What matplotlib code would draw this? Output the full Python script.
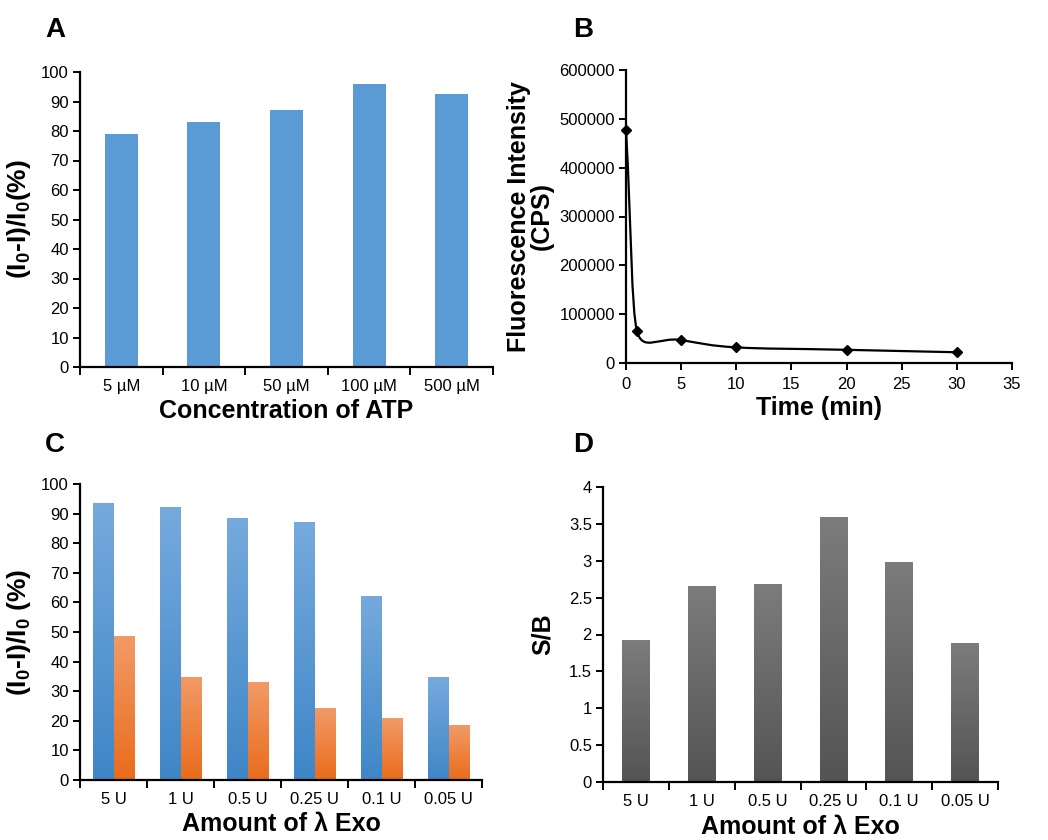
import numpy as np
import matplotlib
matplotlib.use('Agg')
import matplotlib.pyplot as plt
from matplotlib.path import Path
import matplotlib.patches as mpatches
from matplotlib.colors import LinearSegmentedColormap

plt.rcParams['font.family'] = ['Liberation Sans', 'DejaVu Sans']
plt.rcParams['mathtext.default'] = 'regular'
plt.rcParams['axes.linewidth'] = 1.6

# Panel A data
atp_labels = ['5 µM', '10 µM', '50 µM', '100 µM', '500 µM']
atp_values = [79.0, 83.0, 87.0, 95.8, 92.7]

# Panel B data
time_min = [0, 1, 5, 10, 20, 30]
intensity = [478000, 65000, 47000, 32000, 27000, 22000]

# Panel C data
exo_labels = ['5 U', '1 U', '0.5 U', '0.25 U', '0.1 U', '0.05 U']
exo_blue = [93.6, 92.3, 88.6, 87.2, 62.2, 34.8]
exo_orange = [48.6, 34.8, 33.1, 24.3, 20.9, 18.5]

# Panel D data
sb_values = [1.92, 2.66, 2.69, 3.59, 2.98, 1.88]

W, H = 1048, 840
TICK_FS = 12
LABEL_FS = 18


def style_category_axis(ax, labels):
    n = len(labels)
    ax.set_xlim(-0.5, n - 0.5)
    ax.set_xticks(np.arange(n + 1) - 0.5)
    ax.set_xticklabels([])
    ax.set_xticks(np.arange(n), minor=True)
    ax.set_xticklabels(labels, minor=True, fontsize=TICK_FS)
    ax.tick_params(axis='x', which='major', direction='out', length=6, width=1.4)
    ax.tick_params(axis='x', which='minor', length=0, pad=9)


def base_style(ax):
    for s in ['top', 'right']:
        ax.spines[s].set_visible(False)
    ax.tick_params(axis='y', direction='out', length=5, width=1.4, labelsize=TICK_FS, pad=3)
    ax.tick_params(axis='x', labelsize=TICK_FS)


def gradient_bars(ax, bars, top_color, bottom_color):
    cmap = LinearSegmentedColormap.from_list('g', [bottom_color, top_color])
    grad = np.linspace(0, 1, 256).reshape(-1, 1)
    xlim, ylim = ax.get_xlim(), ax.get_ylim()
    for b in bars:
        x0, y0 = b.get_x(), b.get_y()
        w, h = b.get_width(), b.get_height()
        b.set_facecolor('none')
        b.set_edgecolor('none')
        im = ax.imshow(grad, extent=[x0, x0 + w, y0, y0 + h], origin='lower',
                       cmap=cmap, aspect='auto', zorder=2)
        im.set_clip_path(b)
    ax.set_xlim(xlim)
    ax.set_ylim(ylim)


def smooth_path(xs, ys, sx, sy, k=0.5):
    # Excel-like smoothed line: Bezier through the points, tangents in screen space,
    # handle length limited by the shorter neighbouring segment
    p = np.column_stack([np.asarray(xs, float) * sx, np.asarray(ys, float) * sy])
    n = len(p)
    seg = np.linalg.norm(np.diff(p, axis=0), axis=1)
    verts = [p[0]]
    codes = [Path.MOVETO]
    for i in range(n - 1):
        p0 = p[i - 1] if i > 0 else p[i]
        p1, p2 = p[i], p[i + 1]
        p3 = p[i + 2] if i + 2 < n else p[i + 1]
        t1 = p2 - p0
        t2 = p3 - p1
        t1 = t1 / (np.linalg.norm(t1) or 1)
        t2 = t2 / (np.linalg.norm(t2) or 1)
        a1 = seg[i] if i == 0 else min(seg[i], seg[i - 1])
        a2 = seg[i] if i + 1 == n - 1 else min(seg[i], seg[i + 1])
        c1 = p1 + t1 * a1 * k
        c2 = p2 - t2 * a2 * k
        verts += [c1, c2, p2]
        codes += [Path.CURVE4] * 3
    verts = np.array(verts)
    verts[:, 0] /= sx
    verts[:, 1] /= sy
    return Path(verts, codes)


fig = plt.figure(figsize=(W / 100, H / 100), dpi=100, facecolor='white')


def add_ax(l, r, t, b):
    return fig.add_axes([l / W, 1 - b / H, (r - l) / W, (b - t) / H])


# ---- Panel A
axA = add_ax(80, 493, 72, 367)
base_style(axA)
axA.bar(np.arange(len(atp_values)), atp_values, width=0.4, color='#5b9bd5', zorder=2)
axA.set_ylim(0, 100)
axA.set_yticks(np.arange(0, 101, 10))
style_category_axis(axA, atp_labels)
axA.set_ylabel('(I$_0$-I)/I$_0$(%)', fontsize=LABEL_FS + 1, fontweight='bold', labelpad=6)
axA.set_xlabel('Concentration of ATP', fontsize=LABEL_FS, fontweight='bold', labelpad=3)

# ---- Panel B
axB = add_ax(626, 1012, 70, 363)
base_style(axB)
axB.set_xlim(0, 35)
axB.set_ylim(0, 600000)
axB.set_xticks(np.arange(0, 36, 5))
axB.set_yticks(np.arange(0, 600001, 100000))
axB.tick_params(axis='x', direction='out', length=5, width=1.4, pad=5)
path = smooth_path(time_min, intensity, 386 / 35, 293 / 600000)
axB.add_patch(mpatches.PathPatch(path, facecolor='none', edgecolor='black', lw=1.6,
                                 clip_on=False, zorder=3))
axB.plot(time_min, intensity, linestyle='none', marker='D', ms=5.5, color='black',
         clip_on=False, zorder=4)
axB.set_ylabel('Fluorescence Intensity\n(CPS)', fontsize=LABEL_FS, fontweight='bold',
               labelpad=4, linespacing=0.95)
axB.set_xlabel('Time (min)', fontsize=LABEL_FS, fontweight='bold', labelpad=3)

# ---- Panel C
axC = add_ax(80, 482, 484, 780)
base_style(axC)
xc = np.arange(len(exo_blue))
axC.set_ylim(0, 100)
axC.set_yticks(np.arange(0, 101, 10))
style_category_axis(axC, exo_labels)
bb = axC.bar(xc - 0.15, exo_blue, width=0.3, zorder=2)
bo = axC.bar(xc + 0.15, exo_orange, width=0.3, zorder=2)
gradient_bars(axC, bb, '#76aadd', '#3f86c7')
gradient_bars(axC, bo, '#f29a68', '#e96c1b')
axC.set_ylabel('(I$_0$-I)/I$_0$ (%)', fontsize=LABEL_FS + 1, fontweight='bold', labelpad=6)
axC.set_xlabel('Amount of λ Exo', fontsize=LABEL_FS, fontweight='bold', labelpad=3)

# ---- Panel D
axD = add_ax(603, 998, 487, 782)
base_style(axD)
xd = np.arange(len(sb_values))
axD.set_ylim(0, 4)
axD.set_yticks(np.arange(0, 4.01, 0.5))
axD.set_yticklabels(['0', '0.5', '1', '1.5', '2', '2.5', '3', '3.5', '4'])
style_category_axis(axD, exo_labels)
bd = axD.bar(xd, sb_values, width=0.42, zorder=2)
gradient_bars(axD, bd, '#7c7c7c', '#545454')
axD.set_ylabel('S/B', fontsize=LABEL_FS, fontweight='bold', labelpad=10)
axD.set_xlabel('Amount of λ Exo', fontsize=LABEL_FS, fontweight='bold', labelpad=4)

# panel letters
for lab, x, y in [('A', 55, 30), ('B', 583, 30), ('C', 55, 445), ('D', 583, 445)]:
    fig.text(x / W, 1 - y / H, lab, fontsize=20, fontweight='bold', ha='center', va='center')

plt.savefig('out.png', dpi=100, facecolor='white')
